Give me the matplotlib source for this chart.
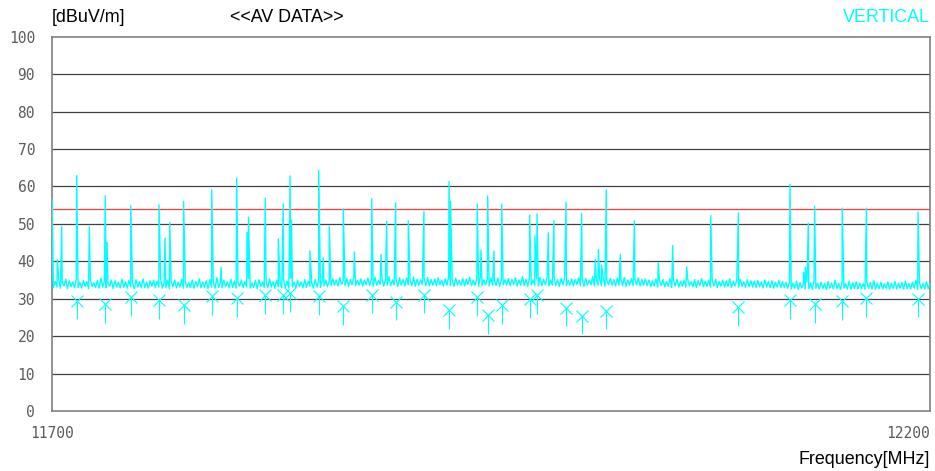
import numpy as np
import matplotlib
matplotlib.use('Agg')
import matplotlib.pyplot as plt

# 測定条件
f_start = 11700
f_stop = 12200
limit_av = 54.0

# ノイズフロア (11700MHz から 1MHz ステップ)
floor_level = [
    34.9, 32.9, 34.6, 33.1, 35.0, 32.8, 34.3, 33.4, 35.2, 32.7, 34.8, 33.2, 34.5, 32.9, 35.4, 33.0, 34.4, 32.8, 34.9, 33.3,
    34.6, 32.7, 35.1, 33.2, 34.3, 33.0, 34.9, 32.8, 35.5, 33.1, 34.7, 32.9, 34.2, 33.3, 35.0, 32.7, 34.8, 33.1, 34.4, 32.9,
    35.2, 33.0, 34.5, 32.8, 34.9, 33.2, 34.3, 32.7, 35.1, 33.1, 34.6, 32.9, 35.3, 33.0, 34.4, 32.8, 34.8, 33.3, 35.0, 32.9,
    34.7, 33.1, 35.4, 32.8, 34.2, 33.0, 34.9, 32.7, 34.6, 33.2, 35.0, 32.9, 34.4, 33.1, 35.2, 32.8, 34.7, 33.0, 34.3, 32.9,
    35.0, 32.8, 34.6, 33.2, 35.3, 32.9, 34.4, 33.0, 34.8, 32.7, 35.1, 33.1, 34.5, 32.8, 35.6, 33.0, 34.3, 32.9, 34.9, 33.2,
    34.5, 32.9, 35.2, 33.0, 34.7, 32.8, 34.4, 33.3, 35.0, 32.9, 34.6, 33.1, 35.4, 32.8, 34.2, 33.0, 34.9, 32.7, 35.1, 33.2,
    34.4, 33.0, 34.8, 32.9, 35.3, 33.1, 34.5, 32.8, 34.9, 33.2, 34.3, 32.9, 35.0, 33.0, 34.7, 32.8, 35.5, 33.1, 34.4, 32.9,
    34.9, 33.2, 34.5, 32.9, 35.1, 33.0, 34.7, 33.3, 34.3, 32.8, 35.2, 33.1, 34.6, 33.0, 34.9, 33.4, 35.0, 33.2, 34.8, 33.5,
    35.3, 33.6, 35.0, 33.4, 35.6, 33.8, 34.9, 33.5, 35.4, 33.3, 35.1, 33.7, 35.8, 33.5, 34.9, 33.6, 35.3, 33.4, 35.0, 33.8,
    35.5, 33.5, 35.2, 33.3, 35.7, 33.6, 34.9, 33.8, 35.4, 33.4, 35.1, 33.6, 35.9, 33.5, 35.0, 33.7, 35.3, 33.3, 35.6, 33.6,
    35.1, 33.4, 35.5, 33.7, 34.9, 33.5, 35.8, 33.3, 35.2, 33.6, 35.0, 33.8, 35.4, 33.5, 35.7, 33.4, 35.1, 33.6, 35.3, 33.5,
    35.6, 33.7, 35.0, 33.4, 35.3, 33.6, 35.9, 33.5, 35.1, 33.3, 35.5, 33.7, 34.9, 33.6, 35.4, 33.4, 35.2, 33.8, 35.7, 33.5,
    35.0, 33.6, 35.4, 33.3, 35.8, 33.5, 35.1, 33.7, 35.3, 33.4, 35.6, 33.6, 34.9, 33.5, 35.5, 33.3, 35.2, 33.7, 35.0, 33.6,
    35.4, 33.5, 35.1, 33.8, 35.6, 33.4, 35.0, 33.6, 35.9, 33.5, 35.2, 33.3, 35.5, 33.7, 35.0, 33.6, 35.3, 33.4, 35.7, 33.5,
    35.2, 33.7, 35.5, 33.4, 35.0, 33.6, 35.8, 33.5, 35.1, 33.3, 35.4, 33.7, 35.6, 33.5, 34.9, 33.6, 35.3, 33.4, 35.1, 33.8,
    35.6, 33.5, 35.2, 33.3, 35.4, 33.6, 35.0, 33.7, 35.9, 33.4, 35.3, 33.6, 35.1, 33.5, 35.5, 33.3, 35.0, 33.7, 35.4, 33.6,
    35.1, 33.4, 35.5, 33.6, 35.2, 33.5, 35.7, 33.3, 35.0, 33.6, 35.4, 33.5, 35.2, 33.7, 35.6, 33.4, 35.1, 33.6, 35.3, 33.5,
    35.0, 33.2, 34.7, 33.4, 35.3, 33.1, 34.8, 33.5, 35.1, 33.2, 34.6, 33.3, 35.4, 33.0, 34.9, 33.4, 35.2, 33.1, 34.7, 33.3,
    34.9, 33.1, 35.3, 33.4, 34.6, 33.2, 35.1, 33.0, 34.8, 33.5, 35.4, 33.2, 34.7, 33.3, 35.0, 33.1, 34.9, 33.4, 35.2, 33.0,
    34.6, 33.3, 35.0, 33.1, 34.8, 33.2, 35.3, 33.0, 34.7, 33.4, 34.9, 33.1, 35.2, 33.3, 34.5, 33.0, 35.1, 33.2, 34.8, 33.1,
    34.7, 33.0, 34.9, 33.2, 34.5, 32.9, 35.0, 33.1, 34.6, 33.0, 34.8, 32.8, 34.4, 33.1, 34.9, 32.9, 34.6, 33.0, 34.3, 32.8,
    34.4, 32.6, 34.1, 32.8, 34.7, 32.5, 34.3, 32.9, 34.0, 32.6, 34.5, 32.7, 34.2, 32.5, 34.8, 32.8, 34.1, 32.6, 34.4, 32.7,
    34.0, 32.5, 34.6, 32.8, 34.2, 32.6, 34.9, 32.7, 34.1, 32.5, 34.4, 32.8, 34.0, 32.6, 34.7, 32.5, 34.3, 32.7, 34.5, 32.6,
    34.2, 32.7, 34.0, 32.5, 34.6, 32.8, 34.3, 32.6, 34.8, 32.5, 34.1, 32.7, 34.4, 32.6, 34.0, 32.8, 34.5, 32.5, 34.2, 32.7,
    34.6, 32.6, 34.1, 32.8, 34.3, 32.5, 34.7, 32.7, 34.0, 32.6, 34.4, 32.8, 34.9, 32.5, 34.2, 32.7, 34.0, 32.6, 34.5, 32.7,
    34.1,
]

# スペクトル上のピーク
peak_freq = [
    11700.0, 11700.5, 11703.2, 11705.7, 11714.2, 11721.4, 11730.5, 11731.5, 11745.0, 11761.1,
    11764.5, 11767.2, 11775.1, 11791.1, 11796.4, 11805.3, 11811.2, 11812.0, 11821.6, 11829.0,
    11831.8, 11835.7, 11836.5, 11847.0, 11852.0, 11854.6, 11858.0, 11866.0, 11872.3, 11882.2,
    11887.5, 11890.7, 11895.8, 11903.0, 11911.9, 11926.2, 11927.0, 11942.3, 11944.4, 11948.2,
    11951.8, 11956.2, 11972.1, 11975.1, 11976.3, 11982.7, 11985.9, 11992.8, 12001.7, 12009.5,
    12011.2, 12013.0, 12015.7, 12023.7, 12031.7, 12045.3, 12053.5, 12061.5, 12075.2, 12090.9,
    12120.3, 12128.0, 12129.0, 12130.7, 12134.3, 12150.0, 12163.8, 12193.2,
]
peak_level = [
    56.6, 48.4, 40.4, 49.3, 62.9, 49.3, 57.5, 45.0, 54.8, 55.1,
    46.2, 50.4, 56.0, 59.1, 38.4, 62.2, 47.7, 51.8, 56.9, 46.0,
    55.4, 62.8, 51.0, 42.8, 64.3, 40.9, 49.3, 54.0, 42.5, 56.7,
    41.8, 50.7, 55.6, 50.8, 53.3, 61.3, 56.0, 55.3, 43.0, 57.5,
    42.7, 55.3, 52.3, 46.8, 52.7, 47.6, 50.8, 55.8, 52.7, 40.5,
    43.1, 39.0, 59.1, 41.8, 50.8, 39.6, 44.2, 38.5, 52.2, 52.9,
    60.6, 37.0, 38.4, 50.2, 54.7, 54.2, 54.2, 53.2,
]

# マーカー (AV 測定値)
mk_freq = [
    11714.2, 11730.5, 11745.0, 11761.1, 11775.1, 11791.1, 11805.3, 11821.6, 11831.8, 11835.7,
    11852.0, 11866.0, 11882.2, 11895.8, 11911.9, 11926.2, 11942.3, 11948.2, 11956.2, 11972.1,
    11976.3, 11992.8, 12001.7, 12015.7, 12090.9, 12120.3, 12134.3, 12150.0, 12163.8, 12193.2,
]
mk_level = [
    29.5, 28.6, 30.4, 29.7, 28.3, 30.7, 30.2, 30.9, 30.9, 31.4,
    30.7, 28.0, 31.1, 29.2, 31.1, 26.9, 30.4, 25.6, 28.3, 29.8,
    30.9, 27.6, 25.5, 26.8, 27.7, 29.6, 28.6, 29.3, 30.2, 30.0,
]

y_ticks = [0, 10, 20, 30, 40, 50, 60, 70, 80, 90, 100]
x_ticks = [11700, 12200]

trace_color = '#00FFFF'
grid_color = '#404040'
label_color = '#5c5c5c'

# フロアとピークを周波数順に並べてトレースを作る
floor_freq = np.arange(f_start, f_stop + 1, 1.0)
freq = np.concatenate([floor_freq, peak_freq])
level = np.concatenate([floor_level, peak_level])
order = np.argsort(freq, kind='stable')
freq = freq[order]
level = level[order]

fig = plt.figure(figsize=(9.35, 4.71), dpi=100)
ax = fig.add_axes([51.7 / 935, 1 - 411 / 471, (930 - 51.7) / 935, (411 - 36.7) / 471])

ax.set_xlim(f_start, f_stop)
ax.set_ylim(0, 100)

# グリッド
for y in y_ticks[1:-1]:
    ax.axhline(y, color=grid_color, lw=0.9, zorder=1)

# リミットライン
ax.axhline(limit_av, color='#FF3838', lw=0.9, zorder=2)

# スペクトル
ax.plot(freq, level, color=trace_color, lw=1.0, zorder=3)

# マーカー (× と下向きの線)
ax.vlines(mk_freq, np.array(mk_level) - 5.0, mk_level, color=trace_color, lw=0.8, zorder=3)
ax.plot(mk_freq, mk_level, ls='none', marker='x', ms=8, mew=0.8, color=trace_color, zorder=3)

for side in ['left', 'bottom', 'top', 'right']:
    ax.spines[side].set_color('#808080')
    ax.spines[side].set_linewidth(1.2)

ax.set_yticks(y_ticks)
ax.set_yticklabels([str(v) for v in y_ticks], family='DejaVu Sans Mono', fontsize=10.5, color=label_color)
ax.set_xticks(x_ticks)
ax.set_xticklabels([str(v) for v in x_ticks], family='DejaVu Sans Mono', fontsize=10.5, color=label_color)
ax.tick_params(axis='both', length=0)
ax.tick_params(axis='y', pad=12)
ax.tick_params(axis='x', pad=11)

# 12200 のラベルは右端に寄せる
xlabels = ax.get_xticklabels()
xlabels[1].set_horizontalalignment('right')

fig.text(52 / 935, 1 - 17 / 471, '[dBuV/m]', ha='left', va='center', fontsize=12.9, family='Liberation Sans')
fig.text(230 / 935, 1 - 17 / 471, '<<AV DATA>>', ha='left', va='center', fontsize=12.9, family='Liberation Sans')
fig.text(930 / 935, 1 - 17 / 471, 'VERTICAL', ha='right', va='center', fontsize=12.9, family='Liberation Sans', color=trace_color)
fig.text(930 / 935, 1 - 460 / 471, 'Frequency[MHz]', ha='right', va='center', fontsize=12.9, family='Liberation Sans')

fig.savefig('out.png', dpi=100)
